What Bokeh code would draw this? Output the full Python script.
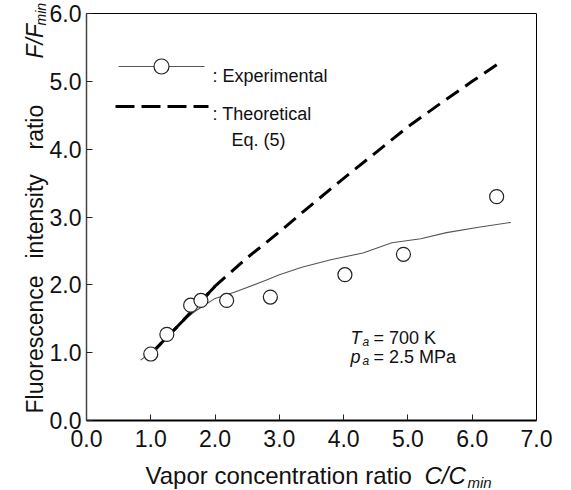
import math
from bokeh.plotting import figure
from bokeh.models import Range1d, FixedTicker, PrintfTickFormatter, Label, LinearAxis
from bokeh.embed import file_html
from bokeh.resources import INLINE

# ---------------- data ----------------
exp_x = [1.0, 1.25, 1.62, 1.78, 2.18, 2.86, 4.02, 4.93, 6.38]
exp_y = [0.98, 1.27, 1.70, 1.77, 1.77, 1.82, 2.15, 2.45, 3.30]

fit_x = [0.84, 1.0, 1.25, 1.5, 1.72, 2.0, 2.3, 2.8, 3.0, 3.35, 3.8, 4.3, 4.75, 5.2, 5.6, 6.1, 6.6]
fit_y = [0.89, 1.0, 1.24, 1.47, 1.63, 1.80, 1.89, 2.07, 2.15, 2.26, 2.37, 2.47, 2.62, 2.68, 2.77, 2.85, 2.92]

theo_x = [1.0, 1.5, 2.0, 2.5, 3.0, 3.5, 4.0, 4.5, 5.0, 5.5, 6.0, 6.42]
theo_y = [0.98, 1.47, 1.98, 2.40, 2.78, 3.18, 3.57, 3.95, 4.33, 4.67, 5.0, 5.27]

x_ticks = [0, 1, 2, 3, 4, 5, 6, 7]
y_ticks = [0, 1, 2, 3, 4, 5, 6]

# ---------------- layout (page pixels) ----------------
W, H = 571, 490           # canvas (the page template has no body margin)
OFF = 0                   # page offset of the canvas
AX_L, AX_R = 86, 536      # page x of x=0 and x=7
AX_B, AX_T = 420, 13      # page y of y=0 and y=6
XMIN, XMAX, YMIN, YMAX = 0.0, 7.0, 0.0, 6.0
PXX = (AX_R - AX_L) / (XMAX - XMIN)
PXY = (AX_B - AX_T) / (YMAX - YMIN)
FONT = "Liberation Sans"


def dx(px):  # page pixel -> data x
    return XMIN + (px - AX_L) / PXX


def dy(py):  # page pixel -> data y
    return YMIN + (AX_B - py) / PXY


p = figure(width=W, height=H, output_backend="svg", toolbar_location=None,
           x_range=Range1d(dx(OFF), dx(OFF + W)), y_range=Range1d(dy(OFF + H), dy(OFF)),
           x_axis_location=None, y_axis_location=None,
           min_border=0)
p.background_fill_color = "white"
p.border_fill_color = "white"
p.outline_line_color = None
p.grid.visible = False


def make_axis(ticks, bounds, loc, nminor=2, labels=True):
    ax = LinearAxis(fixed_location=loc, bounds=bounds,
                    ticker=FixedTicker(ticks=ticks, num_minor_ticks=nminor))
    ax.formatter = PrintfTickFormatter(format="%.1f")
    ax.major_tick_in = 6
    ax.major_tick_out = 0
    ax.minor_tick_in = 3
    ax.minor_tick_out = 0
    ax.major_tick_line_color = "#222222"
    ax.minor_tick_line_color = "#222222"
    ax.major_label_text_font = FONT
    ax.major_label_text_font_size = "23px" if labels else "0px"
    ax.major_label_text_color = "#111111"
    return ax


xax = make_axis(x_ticks, (XMIN, XMAX), YMIN)
xax.axis_line_width = 2
xax.axis_line_color = "black"
xax.major_label_standoff = 9
p.add_layout(xax, "below")

yax = make_axis(y_ticks, (YMIN, YMAX), XMIN)
yax.axis_line_width = 1.5
yax.axis_line_color = "#444444"
yax.major_label_standoff = 5
p.add_layout(yax, "left")

# frame: top and right borders
tax = make_axis([], (XMIN, XMAX), YMAX, nminor=0, labels=False)
tax.axis_line_color = "black"
tax.axis_line_width = 1
p.add_layout(tax, "above")
rax = make_axis([], (YMIN, YMAX), XMAX, nminor=0, labels=False)
rax.axis_line_color = "black"
rax.axis_line_width = 1
p.add_layout(rax, "right")

# ---------------- series ----------------
p.line(fit_x, fit_y, line_color="#555555", line_width=1.1)
p.line(theo_x, theo_y, line_color="black", line_width=3, line_dash="15 8")
sx = [x for x in theo_x if x <= 2.0]
p.line(sx, theo_y[:len(sx)], line_color="black", line_width=3)
p.scatter(exp_x, exp_y, marker="circle", size=14, fill_color="white",
          line_color="#222222", line_width=1.2)

# ---------------- legend (drawn) ----------------
p.line([dx(118), dx(204)], [dy(66), dy(66)], line_color="#555555", line_width=1.1)
p.scatter([dx(161)], [dy(66)], marker="circle", size=15, fill_color="white",
          line_color="#222222", line_width=1.2)
p.line([dx(115), dx(208)], [dy(106), dy(106)], line_color="black", line_width=3,
       line_dash="19 7")


def lab(text, px, py, size, style="normal", angle=0.0):
    p.add_layout(Label(x=dx(px), y=dy(py), text=text, text_font=FONT,
                       text_font_size=size, text_font_style=style,
                       text_color="#111111", text_align="left",
                       text_baseline="alphabetic", angle=angle))


lab(": Experimental", 212, 75, "18px")
lab(": Theoretical", 212, 113, "18px")
lab("Eq. (5)", 231, 139, "18px")

lab("T", 350, 337, "18px", "italic")
lab("a", 362, 341, "12px", "italic")
lab("= 700 K", 373, 337, "18px")
lab("p", 350, 356, "18px", "italic")
lab("a", 362, 360, "12px", "italic")
lab("= 2.5 MPa", 373, 356, "18px")

# axis titles
lab("Vapor concentration ratio", 145, 475, "24px")
lab("C/C", 424, 475, "24px", "italic")
lab("min", 467, 482, "15px", "italic")

R = math.pi / 2
lab("Fluorescence", 34, 413, "23px", angle=R)
lab("intensity", 34, 258, "23px", angle=R)
lab("ratio", 34, 149, "23px", angle=R)
lab("F/F", 34, 58, "23px", "italic", angle=R)
lab("min", 40, 25, "14px", "italic", angle=R)

open("out.html", "w").write(file_html(p, INLINE))
